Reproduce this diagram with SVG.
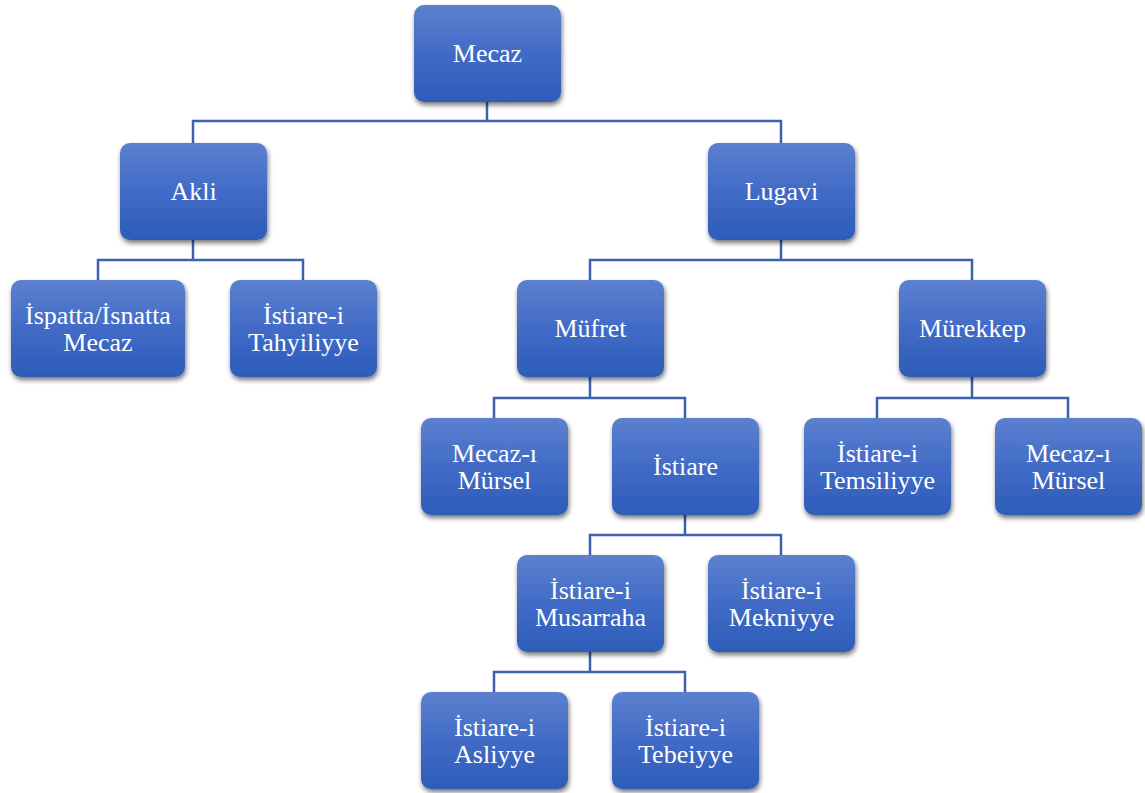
<svg xmlns="http://www.w3.org/2000/svg" width="1145" height="793" viewBox="0 0 1145 793">
  <defs>
    <linearGradient id="boxFill" x1="0" y1="0" x2="0" y2="1">
      <stop offset="0" stop-color="#5c80cf"/>
      <stop offset="0.5" stop-color="#416bc6"/>
      <stop offset="1" stop-color="#2d5cb9"/>
    </linearGradient>
    <filter id="shadow" x="-20%" y="-20%" width="140%" height="150%">
      <feGaussianBlur in="SourceAlpha" stdDeviation="2.5"/>
      <feOffset dx="1" dy="3" result="b"/>
      <feComponentTransfer><feFuncA type="linear" slope="0.55"/></feComponentTransfer>
      <feMerge><feMergeNode/><feMergeNode in="SourceGraphic"/></feMerge>
    </filter>
  </defs>
  <style>
    .box { fill: url(#boxFill); filter: url(#shadow); }
    .lbl { font-family: "Liberation Serif", "Times New Roman", serif; font-size: 26px; fill: #ffffff; text-anchor: middle; }
    .conn { fill: none; stroke: #3c62ae; stroke-width: 2.5; }
  </style>
  <rect width="1145" height="793" fill="#ffffff"/>

  <g id="connectors">
    <path class="conn" d="M487 102 V121 M193 143 V121 H781 V143"/>
    <path class="conn" d="M193 240 V260 M98 280 V260 H303 V280"/>
    <path class="conn" d="M781 240 V260 M590 280 V260 H972 V280"/>
    <path class="conn" d="M590 377 V398 M494 418 V398 H685 V418"/>
    <path class="conn" d="M972 377 V398 M877 418 V398 H1068 V418"/>
    <path class="conn" d="M685 515 V535 M590 555 V535 H781 V555"/>
    <path class="conn" d="M590 652 V672 M494 692 V672 H685 V692"/>
  </g>

  <g id="mecaz">
    <rect class="box" x="414" y="5" width="147" height="97" rx="10"/>
    <text class="lbl" x="487.5" y="62">Mecaz</text>
  </g>
  <g id="akli">
    <rect class="box" x="120" y="143" width="147" height="97" rx="10"/>
    <text class="lbl" x="193.5" y="200">Akli</text>
  </g>
  <g id="lugavi">
    <rect class="box" x="708" y="143" width="147" height="97" rx="10"/>
    <text class="lbl" x="781.5" y="200">Lugavi</text>
  </g>
  <g id="ispatta">
    <rect class="box" x="11" y="280" width="174" height="97" rx="10"/>
    <text class="lbl" x="98" y="324">İspatta/İsnatta</text>
    <text class="lbl" x="98" y="351">Mecaz</text>
  </g>
  <g id="tahyiliyye">
    <rect class="box" x="230" y="280" width="147" height="97" rx="10"/>
    <text class="lbl" x="303.5" y="324">İstiare-i</text>
    <text class="lbl" x="303.5" y="351">Tahyiliyye</text>
  </g>
  <g id="mufret">
    <rect class="box" x="517" y="280" width="147" height="97" rx="10"/>
    <text class="lbl" x="590.5" y="337">Müfret</text>
  </g>
  <g id="murekkep">
    <rect class="box" x="899" y="280" width="147" height="97" rx="10"/>
    <text class="lbl" x="972.5" y="337">Mürekkep</text>
  </g>
  <g id="mursel-left">
    <rect class="box" x="421" y="418" width="147" height="97" rx="10"/>
    <text class="lbl" x="494.5" y="462">Mecaz-ı</text>
    <text class="lbl" x="494.5" y="489">Mürsel</text>
  </g>
  <g id="istiare">
    <rect class="box" x="612" y="418" width="147" height="97" rx="10"/>
    <text class="lbl" x="685.5" y="475">İstiare</text>
  </g>
  <g id="temsiliyye">
    <rect class="box" x="804" y="418" width="147" height="97" rx="10"/>
    <text class="lbl" x="877.5" y="462">İstiare-i</text>
    <text class="lbl" x="877.5" y="489">Temsiliyye</text>
  </g>
  <g id="mursel-right">
    <rect class="box" x="995" y="418" width="147" height="97" rx="10"/>
    <text class="lbl" x="1068.5" y="462">Mecaz-ı</text>
    <text class="lbl" x="1068.5" y="489">Mürsel</text>
  </g>
  <g id="musarraha">
    <rect class="box" x="517" y="555" width="147" height="97" rx="10"/>
    <text class="lbl" x="590.5" y="599">İstiare-i</text>
    <text class="lbl" x="590.5" y="626">Musarraha</text>
  </g>
  <g id="mekniyye">
    <rect class="box" x="708" y="555" width="147" height="97" rx="10"/>
    <text class="lbl" x="781.5" y="599">İstiare-i</text>
    <text class="lbl" x="781.5" y="626">Mekniyye</text>
  </g>
  <g id="asliyye">
    <rect class="box" x="421" y="692" width="147" height="97" rx="10"/>
    <text class="lbl" x="494.5" y="736">İstiare-i</text>
    <text class="lbl" x="494.5" y="763">Asliyye</text>
  </g>
  <g id="tebeiyye">
    <rect class="box" x="612" y="692" width="147" height="97" rx="10"/>
    <text class="lbl" x="685.5" y="736">İstiare-i</text>
    <text class="lbl" x="685.5" y="763">Tebeiyye</text>
  </g>
</svg>
